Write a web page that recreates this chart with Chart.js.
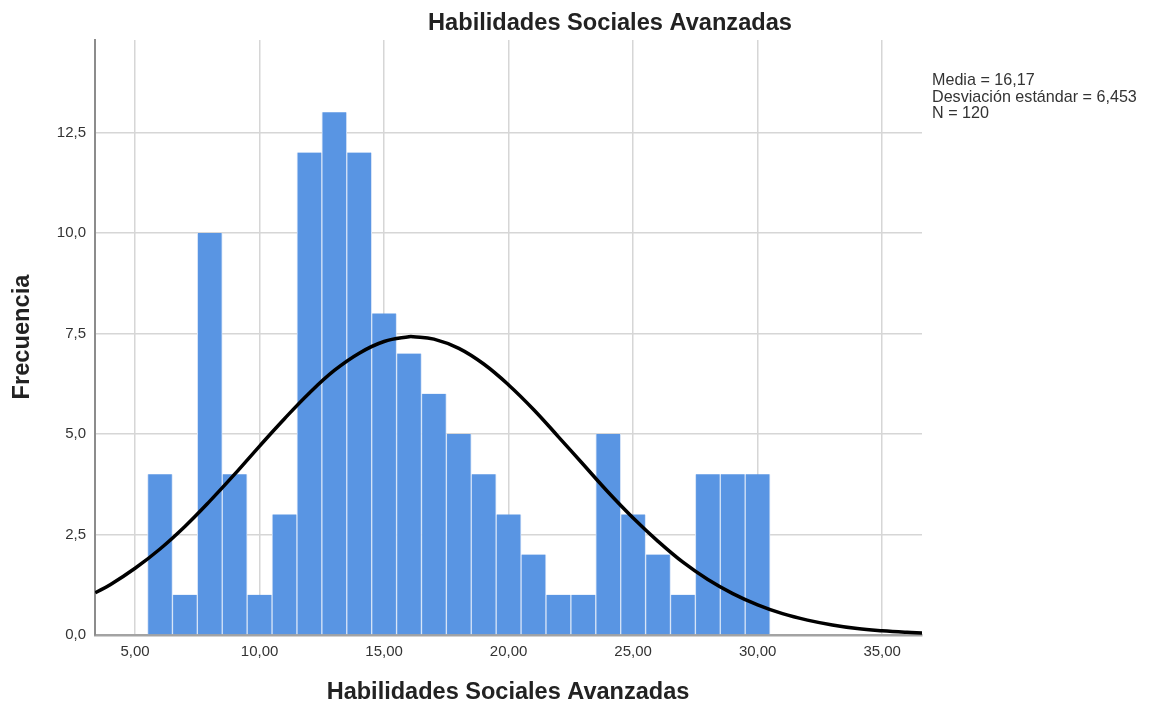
<!DOCTYPE html>
<html><head><meta charset="utf-8">
<script src="https://cdn.jsdelivr.net/npm/chart.js@4.4.1/dist/chart.umd.min.js"></script>
<style>html,body{margin:0;padding:0;background:#fff}canvas{display:block}</style>
</head><body>
<canvas id="c" width="1154" height="710" style="width:1154px;height:710px"></canvas>
<script>
// ---- data ----
const binCenters = [6,7,8,9,10,11,12,13,14,15,16,17,18,19,20,21,22,23,24,25,26,27,28,29,30];
const frequencies = [4,1,10,4,1,3,12,13,12,8,7,6,5,4,3,2,1,1,5,3,2,1,4,4,4];
const curveX = [3.4,4,5,6,7,8,9,10,11,12,13,14,15,16,16.17,17,18,19,20,21,22,23,24,25,26,27,28,29,30,31,32,33,34,35,36,36.6];
const curveY = [1.05,1.25,1.66,2.14,2.70,3.33,4.00,4.70,5.38,6.02,6.58,7.01,7.30,7.42,7.42,7.36,7.13,6.74,6.22,5.61,4.93,4.24,3.55,2.91,2.33,1.81,1.38,1.03,0.75,0.53,0.37,0.25,0.16,0.105,0.066,0.05];
const yTicks = [0,2.5,5,7.5,10,12.5];
const xTicks = [5,10,15,20,25,30,35];
const statsLines = ['Media = 16,17','Desviación estándar = 6,453','N = 120'];
const titleText = 'Habilidades Sociales Avanzadas';
const xTitleText = 'Habilidades Sociales Avanzadas';
const yTitleText = 'Frecuencia';

const FONT = "'Liberation Sans', Arial, sans-serif";
const fmtComma = (v, d) => v.toFixed(d).replace('.', ',');

function fitText(ctx, text, weight, targetW, baseSize) {
  ctx.font = weight + ' ' + baseSize + 'px ' + FONT;
  const w = ctx.measureText(text).width;
  return baseSize * targetW / w;
}

const textPlugin = {
  id: 'texts',
  afterDraw(chart) {
    const ctx = chart.ctx;
    ctx.save();
    ctx.fillStyle = '#222';
    ctx.textBaseline = 'middle';
    ctx.textAlign = 'center';
    // title
    let s = fitText(ctx, titleText, 'bold', 364, 18);
    ctx.font = 'bold ' + s + 'px ' + FONT;
    ctx.fillText(titleText, 610, 23);
    // x title
    s = fitText(ctx, xTitleText, 'bold', 363, 18);
    ctx.font = 'bold ' + s + 'px ' + FONT;
    ctx.fillText(xTitleText, 508, 693);
    // y title
    s = fitText(ctx, yTitleText, 'bold', 125, 18);
    ctx.font = 'bold ' + s + 'px ' + FONT;
    ctx.save();
    ctx.translate(22, 337);
    ctx.rotate(-Math.PI / 2);
    ctx.fillText(yTitleText, 0, 0);
    ctx.restore();
    // stats
    s = fitText(ctx, statsLines[1], 'normal', 205, 13);
    ctx.font = 'normal ' + s + 'px ' + FONT;
    ctx.textAlign = 'left';
    ctx.fillStyle = '#333';
    statsLines.forEach((t, i) => ctx.fillText(t, 932, 81 + i * 16.3));
    ctx.restore();
  }
};

new Chart(document.getElementById('c'), {
  type: 'bar',
  data: {
    datasets: [
      {
        type: 'line',
        data: curveX.map((x, i) => ({x, y: curveY[i]})),
        borderColor: '#000',
        borderWidth: 3.5,
        pointRadius: 0,
        tension: 0.4,
        fill: false,
        order: 0
      },
      {
        type: 'bar',
        data: binCenters.map((x, i) => ({x, y: frequencies[i]})),
        backgroundColor: '#5995e3',
        borderColor: '#d5e3f7',
        borderWidth: {left: 1, right: 1, top: 0, bottom: 0},
        barPercentage: 1,
        categoryPercentage: 1,
        order: 1
      }
    ]
  },
  options: {
    responsive: false,
    animation: false,
    layout: {padding: {top: 40, right: 232, left: 0, bottom: 0}},
    plugins: {legend: {display: false}, tooltip: {enabled: false}, title: {display: false}},
    scales: {
      x: {
        type: 'linear',
        min: 3.39,
        max: 36.6,
        offset: false,
        afterFit(scale) { scale.height = 75; },
        afterBuildTicks(scale) { scale.ticks = xTicks.map(v => ({value: v})); },
        ticks: {
          includeBounds: false,
          padding: 8,
          color: '#333',
          font: {family: FONT, size: 15},
          callback: v => fmtComma(v, 2),
          autoSkip: false,
          maxRotation: 0
        },
        grid: {color: '#d6d6d6', lineWidth: 1.5, drawTicks: false, offset: false},
        border: {color: '#a3a3a3', width: 2.5}
      },
      y: {
        min: 0,
        max: 14.8,
        afterFit(scale) { scale.width = 95; },
        afterBuildTicks(scale) { scale.ticks = yTicks.map(v => ({value: v})); },
        ticks: {
          includeBounds: false,
          padding: 9,
          color: '#333',
          font: {family: FONT, size: 15},
          callback: v => fmtComma(v, 1)
        },
        grid: {color: '#d6d6d6', lineWidth: 1.5, drawTicks: false},
        border: {color: '#8c8c8c', width: 2}
      }
    }
  },
  plugins: [textPlugin]
});
</script>
</body></html>
